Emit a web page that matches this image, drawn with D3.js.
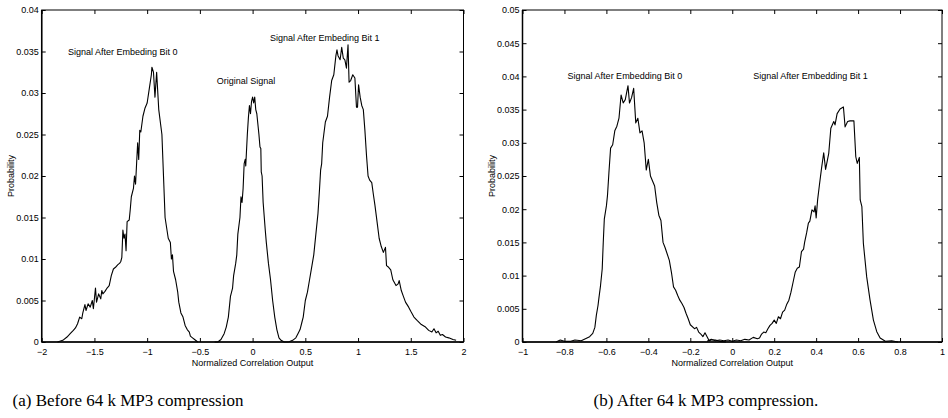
<!DOCTYPE html>
<html><head><meta charset="utf-8">
<script src="https://cdn.jsdelivr.net/npm/d3@7/dist/d3.min.js"></script>
<style>
html,body{margin:0;padding:0;background:#fff;}
svg{display:block;font-family:"Liberation Sans",Arial,Helvetica,sans-serif;}
</style></head>
<body><svg id="c" width="948" height="418"></svg>
<script>
// ---------- DATA ----------
const xTicksA = [-2,-1.5,-1,-0.5,0,0.5,1,1.5,2];
const yTicksA = [0,0.005,0.01,0.015,0.02,0.025,0.03,0.035,0.04];
const xTicksB = [-1,-0.8,-0.6,-0.4,-0.2,0,0.2,0.4,0.6,0.8,1];
const yTicksB = [0,0.005,0.01,0.015,0.02,0.025,0.03,0.035,0.04,0.045,0.05];

const xLabel = "Normalized Correlation Output";
const yLabel = "Probability";
const captionA = "(a) Before 64 k MP3 compression";
const captionB = "(b) After 64 k MP3 compression.";

// annotation labels [text, x, y]
const notesA = [["Signal After Embeding Bit 0",-1.75,0.035],["Original Signal",-0.34,0.0315],["Signal After Embeding Bit 1",0.165,0.0366]];
const notesB = [["Signal After Embedding Bit 0",-0.785,0.0401],["Signal After Embedding Bit 1",0.1,0.0401]];

// (a) Bit 0
const a_bit0 = [[-1.85,0],[-1.8,0.0002],[-1.76,0.0006],[-1.73,0.001],[-1.7,0.0014],[-1.68,0.0017],[-1.66,0.0022],[-1.64,0.003],[-1.62,0.0028],[-1.61,0.0035],[-1.59,0.0045],[-1.58,0.0038],[-1.56,0.0046],[-1.54,0.0042],[-1.52,0.005],[-1.51,0.004],[-1.49,0.0065],[-1.48,0.0048],[-1.46,0.0058],[-1.44,0.0052],[-1.43,0.0062],[-1.42,0.0058],[-1.4,0.0061],[-1.38,0.0065],[-1.36,0.0068],[-1.34,0.008],[-1.32,0.0088],[-1.3,0.009],[-1.28,0.0093],[-1.26,0.0095],[-1.25,0.0097],[-1.24,0.0102],[-1.23,0.0135],[-1.22,0.0125],[-1.21,0.013],[-1.2,0.011],[-1.19,0.0145],[-1.17,0.0147],[-1.16,0.016],[-1.15,0.0175],[-1.13,0.0185],[-1.12,0.02],[-1.11,0.019],[-1.1,0.0215],[-1.09,0.024],[-1.08,0.022],[-1.07,0.0255],[-1.06,0.0253],[-1.04,0.0272],[-1.02,0.0282],[-1,0.0288],[-0.98,0.0305],[-0.96,0.0322],[-0.955,0.0331],[-0.94,0.0325],[-0.926,0.0295],[-0.91,0.0325],[-0.89,0.028],[-0.86,0.025],[-0.845,0.02],[-0.83,0.015],[-0.8,0.0125],[-0.78,0.012],[-0.77,0.01],[-0.76,0.0105],[-0.75,0.0085],[-0.73,0.0075],[-0.71,0.006],[-0.7,0.0048],[-0.68,0.0035],[-0.66,0.003],[-0.64,0.002],[-0.62,0.0015],[-0.6,0.0012],[-0.59,0.0007],[-0.57,0.0005],[-0.55,0.0003],[-0.52,0]];
// (a) Original
const a_orig = [[-0.36,0],[-0.33,0],[-0.3,0.0003],[-0.27,0.001],[-0.25,0.0018],[-0.23,0.003],[-0.21,0.0055],[-0.19,0.0065],[-0.18,0.008],[-0.16,0.0095],[-0.15,0.0105],[-0.14,0.013],[-0.12,0.015],[-0.11,0.0175],[-0.1,0.0168],[-0.09,0.0185],[-0.08,0.0215],[-0.07,0.022],[-0.065,0.0212],[-0.05,0.025],[-0.04,0.027],[-0.03,0.0285],[-0.02,0.0275],[-0.01,0.029],[0,0.0295],[0.01,0.0288],[0.02,0.0295],[0.03,0.028],[0.04,0.0275],[0.06,0.025],[0.07,0.0235],[0.078,0.0233],[0.082,0.0205],[0.09,0.02],[0.1,0.0168],[0.12,0.0135],[0.13,0.012],[0.15,0.0095],[0.17,0.0075],[0.19,0.005],[0.21,0.003],[0.23,0.0015],[0.25,0.0005],[0.27,0.0002],[0.3,0],[0.34,0]];
// (a) Bit 1
const a_bit1 = [[0.34,0],[0.38,0.0002],[0.41,0.0005],[0.43,0.001],[0.45,0.0015],[0.47,0.0025],[0.48,0.003],[0.5,0.005],[0.52,0.006],[0.54,0.0075],[0.56,0.009],[0.58,0.0105],[0.6,0.013],[0.62,0.0155],[0.635,0.0185],[0.645,0.0207],[0.655,0.0215],[0.665,0.024],[0.675,0.025],[0.69,0.0265],[0.71,0.0272],[0.73,0.0295],[0.75,0.0315],[0.77,0.0322],[0.79,0.0345],[0.8,0.0352],[0.81,0.0345],[0.83,0.034],[0.845,0.0355],[0.86,0.0342],[0.875,0.034],[0.89,0.033],[0.905,0.0358],[0.915,0.0313],[0.93,0.0315],[0.95,0.0322],[0.97,0.0318],[0.985,0.0283],[0.995,0.0283],[1.005,0.031],[1.02,0.0295],[1.035,0.0285],[1.05,0.028],[1.065,0.0255],[1.08,0.0225],[1.095,0.02],[1.11,0.0195],[1.13,0.0192],[1.145,0.0178],[1.16,0.0165],[1.18,0.0145],[1.2,0.0125],[1.22,0.0115],[1.24,0.0108],[1.26,0.0114],[1.27,0.0092],[1.29,0.009],[1.31,0.0087],[1.33,0.0075],[1.36,0.0068],[1.38,0.007],[1.39,0.0074],[1.41,0.0062],[1.43,0.0055],[1.45,0.0048],[1.48,0.0042],[1.5,0.0037],[1.53,0.003],[1.56,0.0026],[1.6,0.0021],[1.64,0.0018],[1.67,0.0014],[1.7,0.0012],[1.72,0.0016],[1.74,0.0011],[1.76,0.0013],[1.78,0.0008],[1.8,0.0009],[1.83,0.0006],[1.86,0.0005],[1.9,0.0003],[1.93,0.0002]];
// (b) Bit 0
const b_bit0 = [[-0.84,0],[-0.82,0.0003],[-0.8,0.0001],[-0.77,0.0001],[-0.75,0.0003],[-0.72,0.0002],[-0.7,0.0005],[-0.68,0.0008],[-0.665,0.0013],[-0.655,0.0022],[-0.648,0.004],[-0.64,0.0055],[-0.635,0.0068],[-0.628,0.0085],[-0.62,0.011],[-0.615,0.015],[-0.61,0.0185],[-0.6,0.0205],[-0.595,0.022],[-0.588,0.0255],[-0.58,0.0292],[-0.57,0.0297],[-0.56,0.0318],[-0.55,0.0325],[-0.54,0.0337],[-0.53,0.0372],[-0.52,0.036],[-0.51,0.0365],[-0.497,0.0386],[-0.49,0.036],[-0.48,0.0368],[-0.47,0.0382],[-0.46,0.033],[-0.45,0.0337],[-0.44,0.0315],[-0.43,0.0318],[-0.42,0.03],[-0.41,0.0259],[-0.4,0.0275],[-0.39,0.025],[-0.37,0.0235],[-0.36,0.021],[-0.35,0.0191],[-0.34,0.0183],[-0.33,0.015],[-0.32,0.0142],[-0.3,0.0123],[-0.29,0.0105],[-0.28,0.0083],[-0.27,0.0078],[-0.26,0.007],[-0.25,0.0063],[-0.24,0.0058],[-0.23,0.0052],[-0.22,0.0043],[-0.21,0.0035],[-0.2,0.0026],[-0.18,0.002],[-0.17,0.0022],[-0.16,0.0015],[-0.15,0.0012],[-0.14,0.0008],[-0.13,0.0014],[-0.12,0.0008],[-0.11,0.0002],[-0.1,0.0003],[-0.08,0.0003],[-0.06,0.0001],[-0.03,0]];
// (b) Bit 1
const b_bit1 = [[-0.12,0.0001],[-0.1,0.0004],[-0.08,0.0002],[-0.06,0.0003],[-0.04,0.0002],[-0.02,0.0003],[0,0.0001],[0.02,0.0003],[0.04,0.0002],[0.06,0.0004],[0.08,0.0003],[0.1,0.0007],[0.12,0.0005],[0.13,0.0006],[0.14,0.0012],[0.15,0.0015],[0.16,0.0014],[0.17,0.002],[0.18,0.0025],[0.19,0.0028],[0.2,0.0033],[0.21,0.0028],[0.22,0.0038],[0.23,0.0035],[0.24,0.0045],[0.25,0.0048],[0.26,0.0057],[0.27,0.0063],[0.28,0.0075],[0.29,0.009],[0.3,0.0105],[0.31,0.0111],[0.32,0.0113],[0.33,0.0136],[0.34,0.014],[0.345,0.015],[0.355,0.0165],[0.363,0.0179],[0.37,0.0182],[0.38,0.0199],[0.39,0.0196],[0.395,0.0205],[0.4,0.0187],[0.407,0.0214],[0.415,0.0235],[0.425,0.026],[0.436,0.0285],[0.445,0.026],[0.46,0.0284],[0.47,0.0322],[0.484,0.0332],[0.49,0.0327],[0.5,0.0344],[0.514,0.0351],[0.53,0.0354],[0.538,0.0324],[0.55,0.0332],[0.561,0.0333],[0.58,0.0333],[0.589,0.0279],[0.596,0.0269],[0.606,0.0278],[0.61,0.0214],[0.618,0.0204],[0.625,0.0149],[0.641,0.0098],[0.657,0.0063],[0.673,0.0033],[0.689,0.00155],[0.705,0.0006],[0.73,0.0001],[0.76,0.0002],[0.79,0]];

// ---------- DRAW ----------
const svg = d3.select("#c");
svg.append("rect").attr("width",948).attr("height",418).attr("fill","#fff");

const fmt = v => { let s = String(+v.toFixed(4)); return s.replace("-", "\u2212"); };

function panel(cfg){
  const x = d3.scaleLinear().domain(cfg.xd).range([cfg.l, cfg.r]);
  const y = d3.scaleLinear().domain(cfg.yd).range([cfg.b, cfg.t]);
  const g = svg.append("g");
  const tl = 4;
  const ax = (gen, tr, size, lab) => {
    const a = g.append("g").attr("transform", tr).call(gen.tickSizeInner(size).tickSizeOuter(0).tickFormat(lab ? fmt : ""));
    a.select(".domain").remove();
    a.selectAll("line").attr("stroke","#000").attr("stroke-width",1);
    a.selectAll("text").attr("font-size","9px").attr("fill","#000");
    return a;
  };
  const bx = ax(d3.axisBottom(x).tickValues(cfg.xt), `translate(0,${cfg.b})`, -tl, true);
  bx.selectAll("text").attr("dy","0").attr("y", 13);
  ax(d3.axisTop(x).tickValues(cfg.xt), `translate(0,${cfg.t})`, -tl, false);
  const ly = ax(d3.axisLeft(y).tickValues(cfg.yt), `translate(${cfg.l},0)`, -tl, true);
  ly.selectAll("text").attr("x", -3);
  ax(d3.axisRight(y).tickValues(cfg.yt), `translate(${cfg.r},0)`, -tl, false);
  g.append("rect").attr("x",cfg.l).attr("y",cfg.t).attr("width",cfg.r-cfg.l).attr("height",cfg.b-cfg.t)
    .attr("fill","none").attr("stroke","#000").attr("stroke-width",1);
  g.append("line").attr("x1",cfg.l).attr("x2",cfg.r).attr("y1",cfg.b).attr("y2",cfg.b).attr("stroke","#000").attr("stroke-width",1.5);
  g.append("line").attr("x1",cfg.l).attr("x2",cfg.l).attr("y1",cfg.t).attr("y2",cfg.b).attr("stroke","#000").attr("stroke-width",1.5);
  const line = d3.line().x(d=>x(d[0])).y(d=>y(d[1]));
  cfg.series.forEach(s => g.append("path").attr("d", line(s)).attr("fill","none").attr("stroke","#000").attr("stroke-width",1.1).attr("stroke-linejoin","round"));
  cfg.notes.forEach(n => g.append("text").attr("x",x(n[1])).attr("y",y(n[2])).attr("dy","0.35em")
    .attr("font-size","9px").attr("fill","#000").text(n[0]));
  g.append("text").attr("x",(cfg.l+cfg.r)/2).attr("y",cfg.b+24).attr("text-anchor","middle")
    .attr("font-size","9px").attr("fill","#000").text(xLabel);
  g.append("text").attr("transform",`translate(${cfg.l-28},${(cfg.t+cfg.b)/2}) rotate(-90)`).attr("text-anchor","middle")
    .attr("font-size","9px").attr("fill","#000").text(yLabel);
  g.append("text").attr("x",cfg.cx).attr("y",406).attr("text-anchor","middle")
    .attr("font-family","'Liberation Serif','DejaVu Serif',serif").attr("font-size","17px")
    .attr("fill","#000").text(cfg.caption);
}

panel({l:41.7,r:463.5,t:10,b:342,xd:[-2,2],yd:[0,0.04],xt:xTicksA,yt:yTicksA,series:[a_bit0,a_orig,a_bit1],notes:notesA,caption:captionA,cx:128});
panel({l:522.5,r:942,t:10,b:342,xd:[-1,1],yd:[0,0.05],xt:xTicksB,yt:yTicksB,series:[b_bit0,b_bit1],notes:notesB,caption:captionB,cx:706});
</script></body></html>
